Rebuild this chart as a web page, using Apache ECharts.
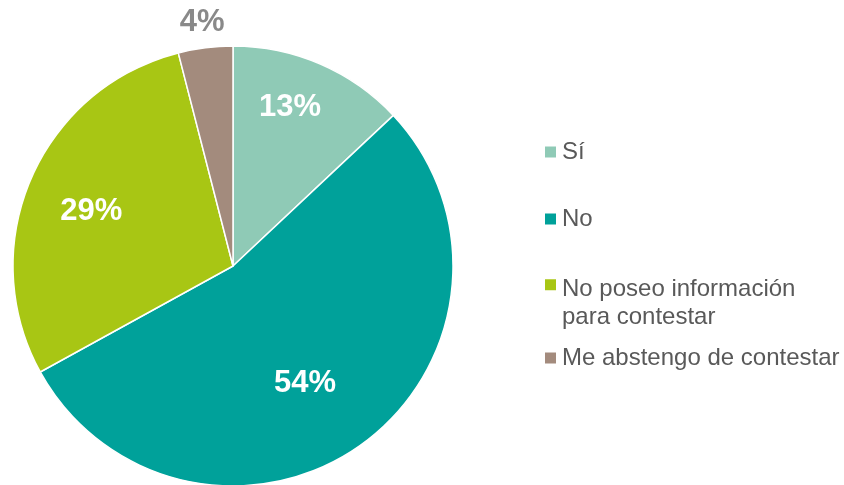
<!DOCTYPE html>
<html>
<head>
<meta charset="utf-8">
<script src="https://cdn.jsdelivr.net/npm/echarts@6/dist/echarts.min.js"></script>
<style>
  html, body { margin: 0; padding: 0; background: #ffffff; }
  #chart { width: 844px; height: 485px; }
</style>
</head>
<body>
<div id="chart"></div>
<script>
// Survey answers (percent of respondents)
const categories = ['Sí', 'No', 'No poseo información\npara contestar', 'Me abstengo de contestar'];
const values = [13, 54, 29, 4];

// Slice colours, in category order
const sliceColors = ['#8FCAB6', '#00A19A', '#A8C614', '#A38B7D'];
// Value label colour per slice (the small slice is labelled outside)
const labelColors = ['#ffffff', '#ffffff', '#ffffff', '#898989'];
// Where each value label sits: fraction of the radius, and a small angular nudge (degrees)
const labelRadius = [0.765, 0.625, 0.69, 1.118];
const labelNudge = [-3.6, 4.4, -2.4, 0];
// Vertical centre of each legend entry's first line
const legendRows = [152, 219, 289, 358];

const FONT = '"Liberation Sans", Arial, Helvetica, sans-serif';
const CX = 233, CY = 266, R = 220;

const total = values.reduce((a, b) => a + b, 0);
const starts = [];
values.reduce((acc, v, i) => { starts[i] = acc; return acc + v; }, 0);

const ICON = 13;
const legends = categories.map((name, i) => {
  const twoLines = name.indexOf('\n') >= 0;
  return {
    data: [name],
    left: 543,
    top: legendRows[i] - 14,
    padding: 0,
    selectedMode: false,
    itemWidth: ICON,
    itemHeight: twoLines ? ICON * 3.8 : ICON,
    // square drawn at the top of a taller box so it lines up with the first text line
    icon: twoLines ? 'path://M0,0L10,0L10,10L0,10ZM0,38L0.01,38Z' : 'rect',
    itemGap: 0,
    textStyle: {
      color: '#595959',
      fontSize: 24,
      lineHeight: 28,
      fontFamily: FONT
    }
  };
});

const chart = echarts.init(document.getElementById('chart'), null, { renderer: 'canvas' });
chart.setOption({
  animation: false,
  backgroundColor: '#ffffff',
  legend: legends,
  series: [{
    type: 'pie',
    center: [CX, CY],
    radius: R,
    startAngle: 90,
    clockwise: true,
    silent: true,
    itemStyle: { borderColor: '#ffffff', borderWidth: 1.5 },
    label: {
      show: true,
      position: 'inside',
      formatter: '{c}%',
      fontSize: 31,
      fontWeight: 'bold',
      fontFamily: FONT
    },
    labelLine: { show: false },
    labelLayout: function (params) {
      const i = params.dataIndex;
      const deg = (starts[i] + values[i] / 2) / total * 360 + labelNudge[i];
      const a = deg * Math.PI / 180;
      const d = R * labelRadius[i];
      return {
        x: CX + d * Math.sin(a),
        y: CY - d * Math.cos(a),
        align: 'center',
        verticalAlign: 'middle'
      };
    },
    data: categories.map((name, i) => ({
      name: name,
      value: values[i],
      itemStyle: { color: sliceColors[i] },
      label: { color: labelColors[i] }
    }))
  }]
});
</script>
</body>
</html>
